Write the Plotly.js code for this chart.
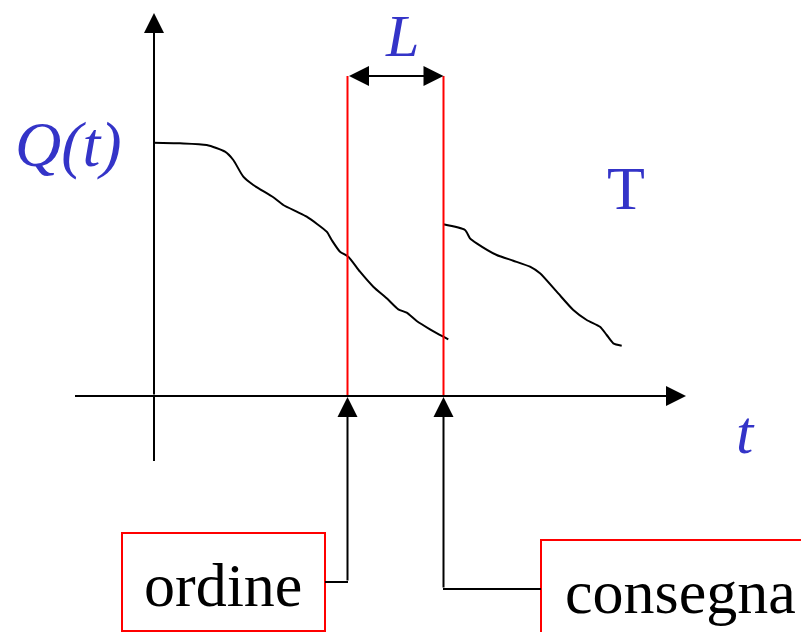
<!DOCTYPE html>
<html>
<head>
<meta charset="utf-8">
<script src="https://cdn.plot.ly/plotly-3.0.1.min.js"></script>
<style>html,body{margin:0;padding:0;background:#fff;}#chart{width:801px;height:632px;}</style>
</head>
<body>
<div id="chart"></div>
<script>
// Stock level before the order arrives (curve 1)
const stockX1 = [153.3,180,206.7,225,233.3,243.3,253.3,273.3,283.3,296.7,306.7,326.7,331.7,340,348.3,360,373.3,386.7,398.3,406.7,416.7,430,443.3,448.3];
const stockY1 = [142.7,143.3,145,151.7,160,176.7,185,197.3,205,211.7,216.7,231.7,240,251.7,256.7,271.7,286.7,298.3,309.3,312.7,321,329.3,336.7,339.3];
// Stock level after delivery (curve 2)
const stockX2 = [443.3,465,470,476.7,496.7,513.3,530,540,556.7,573.3,586.7,600,606.7,613.3,621.7];
const stockY2 = [224.3,230,238.3,243.3,255,260.7,266.7,273.3,291.7,310,320,326.7,335,343.3,345.7];
// Event times
const eventNames = ["ordine", "consegna"];
const eventT = [347.5, 443.5];
const labels = {q: "<i>Q(t)</i>", t: "<i>t</i>", L: "<i>L</i>", T: "T"};

const blue = "#3434C8";
const serif = "Liberation Serif, Times New Roman, serif";

const traces = [
  {x: stockX1, y: stockY1, mode: "lines", line: {color: "#000", width: 2, shape: "spline", smoothing: 0.6}, hoverinfo: "skip"},
  {x: stockX2, y: stockY2, mode: "lines", line: {color: "#000", width: 2, shape: "spline", smoothing: 0.6}, hoverinfo: "skip"}
];

const axisY = 396, axisX = 154;
const shapes = [
  // red vertical lines at order and delivery
  {type: "line", x0: eventT[0], x1: eventT[0], y0: 76, y1: axisY, line: {color: "#FF0000", width: 2}},
  {type: "line", x0: eventT[1], x1: eventT[1], y0: 76, y1: axisY, line: {color: "#FF0000", width: 2}},
  // label boxes
  {type: "rect", x0: 122, x1: 325, y0: 533, y1: 631, line: {color: "#FF0000", width: 2}},
  {type: "rect", x0: 541, x1: 806, y0: 540, y1: 640, line: {color: "#FF0000", width: 2}},
  // connectors horizontal parts
  {type: "line", x0: 325, x1: eventT[0] + 0.5, y0: 582, y1: 582, line: {color: "#000", width: 2}},
  {type: "line", x0: 541, x1: eventT[1] - 0.5, y0: 589, y1: 589, line: {color: "#000", width: 2}},
  // vertical axis bottom extension below the horizontal axis
  {type: "line", x0: axisX, x1: axisX, y0: axisY, y1: 461, line: {color: "#000", width: 2}},
  // horizontal axis left part
  {type: "line", x0: 75, x1: 160, y0: axisY, y1: axisY, line: {color: "#000", width: 2}}
];

function arrow(x, y, ax, ay, extra) {
  return Object.assign({x: x, y: y, ax: ax, ay: ay, xref: "x", yref: "y", axref: "x", ayref: "y",
    text: "", showarrow: true, arrowhead: 2, arrowsize: 2, arrowwidth: 2, arrowcolor: "#000", standoff: 0}, extra || {});
}
function label(x, y, text, size, color, yanchor) {
  return {x: x, y: y, xref: "x", yref: "y", text: text, showarrow: false,
    font: {family: serif, size: size, color: color}, xanchor: "center", yanchor: yanchor || "middle"};
}

const annotations = [
  arrow(axisX, 13, axisX, axisY),          // vertical axis
  arrow(686, axisY, 158, axisY),           // horizontal axis
  arrow(eventT[1], 76, eventT[0], 76, {arrowside: "end+start"}), // lead time L
  arrow(eventT[0], axisY + 1, eventT[0], 582),  // order connector
  arrow(eventT[1], axisY + 1, eventT[1], 589),  // delivery connector
  label(68, 144, labels.q, 64, blue),
  label(402, 0.5, labels.L, 60, blue, "top"),
  label(626, 188, labels.T, 62, blue),
  label(745, 432, labels.t, 62, blue),
  label(223, 585, eventNames[0], 62, "#000"),
  label(680, 592, eventNames[1], 62, "#000")
];

const layout = {
  width: 801, height: 632,
  margin: {l: 0, r: 0, t: 0, b: 0},
  paper_bgcolor: "#fff", plot_bgcolor: "#fff",
  showlegend: false,
  xaxis: {range: [0, 801], visible: false, fixedrange: true},
  yaxis: {range: [632, 0], visible: false, fixedrange: true},
  shapes: shapes,
  annotations: annotations
};

Plotly.newPlot("chart", traces, layout, {staticPlot: true, displayModeBar: false});
</script>
</body>
</html>
